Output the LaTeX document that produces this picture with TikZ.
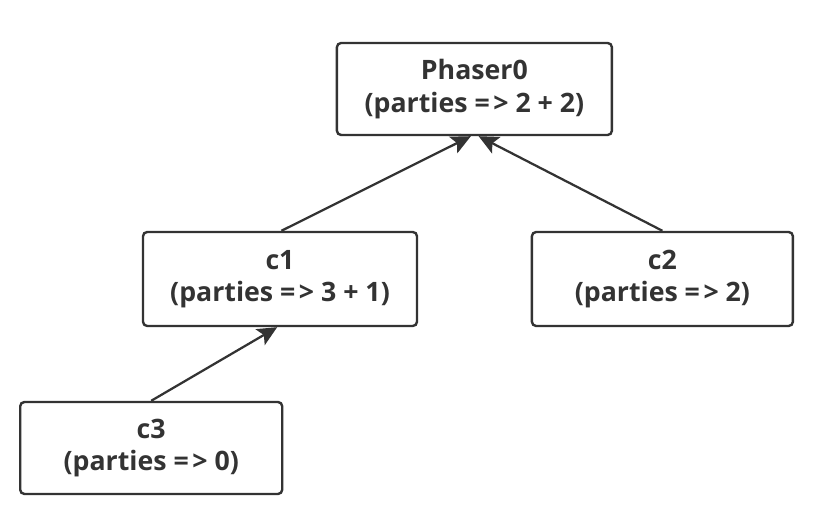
\documentclass[tikz,border=0pt]{standalone}
\usepackage{fontspec}
\setmainfont{Open Sans}[BoldFont={* Bold}]
\usepackage{tikz}
\usetikzlibrary{positioning, arrows.meta}
\definecolor{ink}{RGB}{51,51,51}
\newcommand{\yields}{=\kern2.5pt>}

\begin{document}
\begin{tikzpicture}[
  phbox/.style={draw=ink, line width=1.7pt, rounded corners=3pt, fill=white, align=center,
    font=\fontsize{19}{23}\selectfont\bfseries, text=ink, inner sep=0pt},
  link/.style={draw=ink, line width=1.6pt, -{Stealth[length=14pt, width=13pt, inset=3pt]}},
]
  \useasboundingbox (0,0) rectangle (20.5,12.625);

  % phaser tree
  \node[phbox, minimum width=6.875cm, minimum height=2.3cm] (ph0) at (11.86, 10.4) {Phaser0\\(parties \yields{} 2 + 2)};
  \node[phbox, minimum width=6.85cm, minimum height=2.35cm] (c1) at (7.0, 5.65) {c1\\(parties \yields{} 3 + 1)};
  \node[phbox, minimum width=6.525cm, minimum height=2.35cm] (c2) at (16.56, 5.65) {c2\\(parties \yields{} 2)};
  \node[phbox, minimum width=6.55cm, minimum height=2.3cm] (c3) at (3.78, 1.425) {c3\\(parties \yields{} 0)};

  % parent links
  \draw[link] ([xshift=1pt]c1.north) -- ([xshift=-2.5pt]ph0.south);
  \draw[link] (c2.north) -- ([xshift=3pt]ph0.south);
  \draw[link] (c3.north) -- ([xshift=-2pt]c1.south);
\end{tikzpicture}
\end{document}
